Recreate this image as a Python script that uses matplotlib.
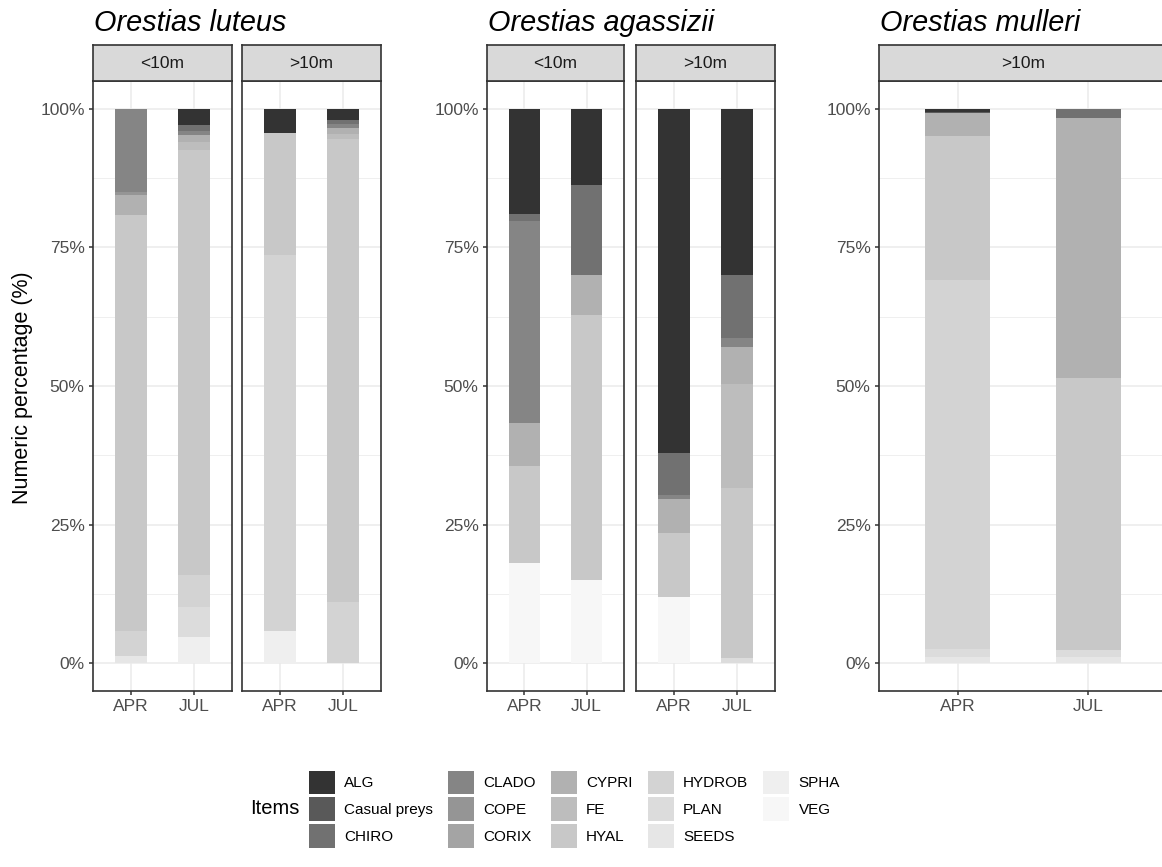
import numpy as np
import matplotlib
matplotlib.use("Agg")
from matplotlib import pyplot as plt
from matplotlib.patches import Patch
from matplotlib.ticker import FixedLocator, PercentFormatter

plt.rcParams['font.family'] = ['Liberation Sans', 'DejaVu Sans']

items = ['ALG', 'Casual preys', 'CHIRO', 'CLADO', 'COPE', 'CORIX', 'CYPRI',
         'FE', 'HYAL', 'HYDROB', 'PLAN', 'SEEDS', 'SPHA', 'VEG']
months = ['APR', 'JUL']

# numeric proportions per item, same order as items
luteus_lt10_apr = [0, 0, 0, 0.150, 0.006, 0, 0.035, 0, 0.751, 0.044, 0, 0.014, 0, 0]
luteus_lt10_jul = [0.030, 0, 0.010, 0.008, 0, 0, 0.012, 0.015, 0.765, 0.058, 0.055, 0, 0.047, 0]
luteus_gt10_apr = [0.043, 0, 0, 0, 0, 0, 0, 0, 0.220, 0.679, 0, 0, 0.058, 0]
luteus_gt10_jul = [0.020, 0, 0.008, 0.007, 0, 0, 0.010, 0.010, 0.835, 0.110, 0, 0, 0, 0]
agassizii_lt10_apr = [0.190, 0, 0.012, 0.365, 0, 0, 0.078, 0, 0.174, 0, 0, 0, 0, 0.181]
agassizii_lt10_jul = [0.137, 0, 0.163, 0, 0, 0, 0.072, 0, 0.478, 0, 0, 0, 0, 0.150]
agassizii_gt10_apr = [0.621, 0, 0.075, 0.007, 0, 0, 0.062, 0, 0.116, 0, 0, 0, 0, 0.119]
agassizii_gt10_jul = [0.300, 0, 0.113, 0.017, 0, 0, 0.067, 0.187, 0.306, 0, 0.010, 0, 0, 0]
mulleri_gt10_apr = [0.005, 0.003, 0, 0, 0, 0, 0.041, 0, 0.259, 0.667, 0.013, 0.012, 0, 0]
mulleri_gt10_jul = [0, 0, 0.016, 0, 0, 0, 0.469, 0, 0.491, 0, 0.012, 0.012, 0, 0]

# grey scale like R's grey.colors (gamma 2.2)
g = 2.2
levels = np.linspace(0.2 ** g, 0.97 ** g, len(items)) ** (1 / g)
colors = [(v, v, v) for v in levels]

W, H = 1162, 867
fig = plt.figure(figsize=(W / 100, H / 100), dpi=100)


def box(x0, x1, y0, y1):
    return [x0 / W, 1 - y1 / H, (x1 - x0) / W, (y1 - y0) / H]


def panel(x0, x1, apr, jul, strip, show_y):
    ax = fig.add_axes(box(x0, x1, 81, 691))
    data = np.array([apr, jul]).T
    x = np.arange(len(months))
    bottom = np.zeros(len(months))
    # stack from the last item upward so ALG sits on top
    for i in range(len(items) - 1, -1, -1):
        ax.bar(x, data[i], 0.5, bottom=bottom, color=colors[i], linewidth=0, zorder=3)
        bottom += data[i]
    ax.set_xlim(-0.6, 1.6)
    ax.set_ylim(-0.05, 1.05)
    ax.set_xticks(x)
    ax.set_xticklabels(months)
    ax.yaxis.set_major_locator(FixedLocator([0, 0.25, 0.5, 0.75, 1]))
    ax.yaxis.set_minor_locator(FixedLocator([0.125, 0.375, 0.625, 0.875]))
    ax.yaxis.set_major_formatter(PercentFormatter(1, decimals=0))
    ax.grid(True, which='major', color='#EBEBEB', lw=1.1, zorder=0)
    ax.grid(True, which='minor', axis='y', color='#EBEBEB', lw=0.55, zorder=0)
    ax.set_axisbelow(True)
    for s in ax.spines.values():
        s.set_color('#333333')
        s.set_linewidth(1.2)
    ax.tick_params(which='major', length=3, width=1.1, color='#333333',
                   labelcolor='#4D4D4D', labelsize=12.5, pad=3)
    ax.tick_params(which='minor', length=0)
    if not show_y:
        ax.tick_params(axis='y', which='both', left=False, labelleft=False)
    st = fig.add_axes(box(x0, x1, 45, 81))
    st.set_facecolor('#D9D9D9')
    st.set_xticks([])
    st.set_yticks([])
    for s in st.spines.values():
        s.set_color('#333333')
        s.set_linewidth(1.2)
    st.text(0.5, 0.5, strip, ha='center', va='center', fontsize=12.5,
            color='#1A1A1A', transform=st.transAxes)
    return ax


panel(93, 232, luteus_lt10_apr, luteus_lt10_jul, '<10m', True)
panel(242, 381, luteus_gt10_apr, luteus_gt10_jul, '>10m', False)
panel(487, 624, agassizii_lt10_apr, agassizii_lt10_jul, '<10m', True)
panel(636, 775, agassizii_gt10_apr, agassizii_gt10_jul, '>10m', False)
panel(879, 1167, mulleri_gt10_apr, mulleri_gt10_jul, '>10m', True)

for x0, name in [(94, 'Orestias luteus'), (488, 'Orestias agassizii'),
                 (880, 'Orestias mulleri')]:
    fig.text(x0 / W, 1 - 31 / H, name, fontsize=20.8, style='italic',
             ha='left', va='baseline', color='black')

fig.text(23 / W, 1 - 388 / H, 'Numeric percentage (%)', rotation=90,
         ha='center', va='center', fontsize=15.5, color='black')

handles = [Patch(facecolor=c, edgecolor='none') for c in colors]
fs = 11
em = fs * 100 / 72
fig.legend(handles, items, ncol=5, loc='upper left',
           bbox_to_anchor=(301 / W, 1 - 763 / H), frameon=False,
           fontsize=fs, borderpad=0, handlelength=26 / em,
           handleheight=2.0, labelspacing=0.2,
           handletextpad=0.6, columnspacing=1.0)
fig.text(300 / W, 1 - 808 / H, 'Items', ha='right', va='center',
         fontsize=14.5, color='black')

fig.savefig('out.png', dpi=100)
